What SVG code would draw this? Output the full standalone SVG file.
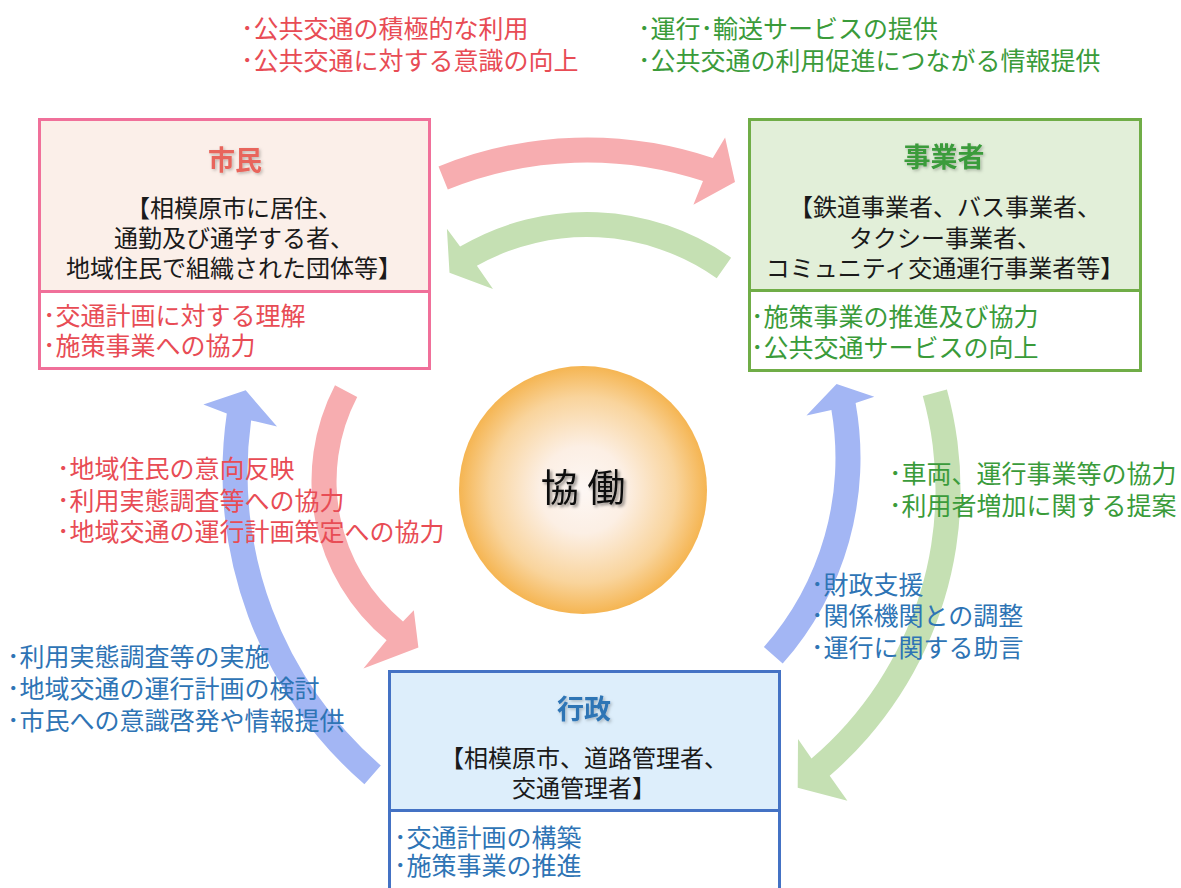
<svg xmlns="http://www.w3.org/2000/svg" width="1181" height="888" viewBox="0 0 1181 888">
  <defs>
    <radialGradient id="gKyodo" cx="50%" cy="50%" r="50%">
      <stop offset="0%" stop-color="#fdf7f4"/>
      <stop offset="35%" stop-color="#fcefe4"/>
      <stop offset="75%" stop-color="#f9d49c"/>
      <stop offset="100%" stop-color="#f5b552"/>
    </radialGradient>
    <filter id="fShadow" x="-20%" y="-20%" width="140%" height="140%">
      <feDropShadow dx="2" dy="2" stdDeviation="1.5" flood-color="#000" flood-opacity="0.45"/>
    </filter>
    <filter id="fTitle" x="-20%" y="-30%" width="140%" height="160%">
      <feDropShadow dx="1.5" dy="1.5" stdDeviation="1.5" flood-color="#000" flood-opacity="0.25"/>
    </filter>
  </defs>
  <style>
    text { font-family: "Noto Sans CJK JP", "Noto Sans", sans-serif; }
    .lbl { font-size: 25px; }
    .body { font-size: 24px; fill: #1a1a1a; text-anchor: middle; }
    .title { font-size: 27px; font-weight: 700; text-anchor: middle; filter: url(#fTitle); }
    .red { fill: #e84c55; }
    .green { fill: #3a9b3a; }
    .blue { fill: #2e74b5; }
    .box { stroke-width: 3; }
  </style>
  <rect width="1181" height="888" fill="#ffffff"/>

  <g id="connectors">
    <path id="arrow-shimin-jigyosha" fill="#f7adb0" d="M438.5,166.4 A396.5,396.5 0 0 1 712.8,158.0 L725.1,137.4 L735,182 L693.4,204.7 L703.0,181.1 A371.5,371.5 0 0 0 447.8,189.5 Z"/>
    <path id="arrow-jigyosha-shimin" fill="#c5e0b3" d="M731.1,257.7 A250,250 0 0 0 460.1,246.6 L446.9,228.8 L449.5,272.7 L493.0,288.9 L476.9,265.8 A225,225 0 0 1 716.7,278.2 Z"/>
    <path id="arrow-gyosei-shimin" fill="#a3b6f4" d="M364.4,784.3 A412.5,412.5 0 0 1 226.8,413.4 L203.4,404.6 L245.7,390.3 L277.0,426.5 L251.1,420.4 A387.5,387.5 0 0 0 380.8,765.5 Z"/>
    <path id="arrow-shimin-gyosei" fill="#f7adb0" d="M335.0,385.3 A206.5,206.5 0 0 0 386.6,640.3 L363.4,668.5 L418.4,647.5 L413.8,610.2 L403.0,621.4 A181.5,181.5 0 0 1 357.2,396.9 Z"/>
    <path id="arrow-gyosei-jigyosha" fill="#a3b6f4" d="M782.7,663.6 A310.5,310.5 0 0 0 855.6,403.0 L874.3,396.7 L836.6,383.9 L806.5,415.5 L831.4,409.9 A285.5,285.5 0 0 1 763.9,647.0 Z"/>
    <path id="arrow-jigyosha-gyosei" fill="#c5e0b3" d="M946.9,389.4 A377.5,377.5 0 0 1 829.7,775.8 L847.4,800.7 L797.7,787.7 L798.0,739.1 L811.5,758.4 A352.5,352.5 0 0 0 922.8,396.1 Z"/>
  </g>

  <g id="node-shimin">
    <rect class="box" x="39.5" y="119.5" width="390" height="172" fill="#fbefe9" stroke="#f0709a"/>
    <rect class="box" x="39.5" y="291.5" width="390" height="77" fill="#ffffff" stroke="#f0709a"/>
    <text class="title" x="235" y="170" fill="#e8655c">市民</text>
    <text class="body" x="234" y="216.5">【相模原市に居住、</text>
    <text class="body" x="234" y="246.5">通勤及び通学する者、</text>
    <text class="body" x="234" y="276.5">地域住民で組織された団体等】</text>
    <text class="lbl red" x="43" y="324.5">･交通計画に対する理解</text>
    <text class="lbl red" x="43" y="355">･施策事業への協力</text>
  </g>

  <g id="node-jigyosha">
    <rect class="box" x="749.5" y="119.5" width="391" height="171" fill="#e2efd9" stroke="#70ad47"/>
    <rect class="box" x="749.5" y="290.5" width="391" height="80" fill="#ffffff" stroke="#70ad47"/>
    <text class="title green" x="944" y="167">事業者</text>
    <text class="body" x="945" y="216">【鉄道事業者、バス事業者、</text>
    <text class="body" x="945" y="246.5">タクシー事業者、</text>
    <text class="body" x="945" y="276.5">コミュニティ交通運行事業者等】</text>
    <text class="lbl green" x="751" y="326">･施策事業の推進及び協力</text>
    <text class="lbl green" x="751" y="357">･公共交通サービスの向上</text>
  </g>

  <g id="node-gyosei">
    <rect class="box" x="389.5" y="671.5" width="390" height="139" fill="#ddeefb" stroke="#4472c4"/>
    <rect class="box" x="389.5" y="810.5" width="390" height="90" fill="#ffffff" stroke="#4472c4"/>
    <text class="title blue" x="584" y="719">行政</text>
    <text class="body" x="584" y="767">【相模原市、道路管理者、</text>
    <text class="body" x="584" y="797">交通管理者】</text>
    <text class="lbl blue" x="394" y="847">･交通計画の構築</text>
    <text class="lbl blue" x="394" y="875">･施策事業の推進</text>
  </g>

  <g id="node-kyodo">
    <circle cx="583" cy="490" r="124" fill="url(#gKyodo)"/>
    <text x="583" y="501" font-size="38" text-anchor="middle" fill="#111111" filter="url(#fShadow)">協 働</text>
  </g>

  <g id="labels">
    <text class="lbl red" x="241" y="37.5">･公共交通の積極的な利用</text>
    <text class="lbl red" x="241" y="69.5">･公共交通に対する意識の向上</text>
    <text class="lbl green" x="638" y="37.5">･運行･輸送サービスの提供</text>
    <text class="lbl green" x="638" y="69.5">･公共交通の利用促進につながる情報提供</text>
    <text class="lbl red" x="57" y="477.5">･地域住民の意向反映</text>
    <text class="lbl red" x="57" y="509.5">･利用実態調査等への協力</text>
    <text class="lbl red" x="57" y="540.5">･地域交通の運行計画策定への協力</text>
    <text class="lbl blue" x="7" y="666">･利用実態調査等の実施</text>
    <text class="lbl blue" x="7" y="697.5">･地域交通の運行計画の検討</text>
    <text class="lbl blue" x="7" y="729.5">･市民への意識啓発や情報提供</text>
    <text class="lbl green" x="889" y="482.5">･車両、運行事業等の協力</text>
    <text class="lbl green" x="889" y="514.5">･利用者増加に関する提案</text>
    <text class="lbl blue" x="811" y="593.5">･財政支援</text>
    <text class="lbl blue" x="811" y="624.5">･関係機関との調整</text>
    <text class="lbl blue" x="811" y="656.5">･運行に関する助言</text>
  </g>
</svg>
